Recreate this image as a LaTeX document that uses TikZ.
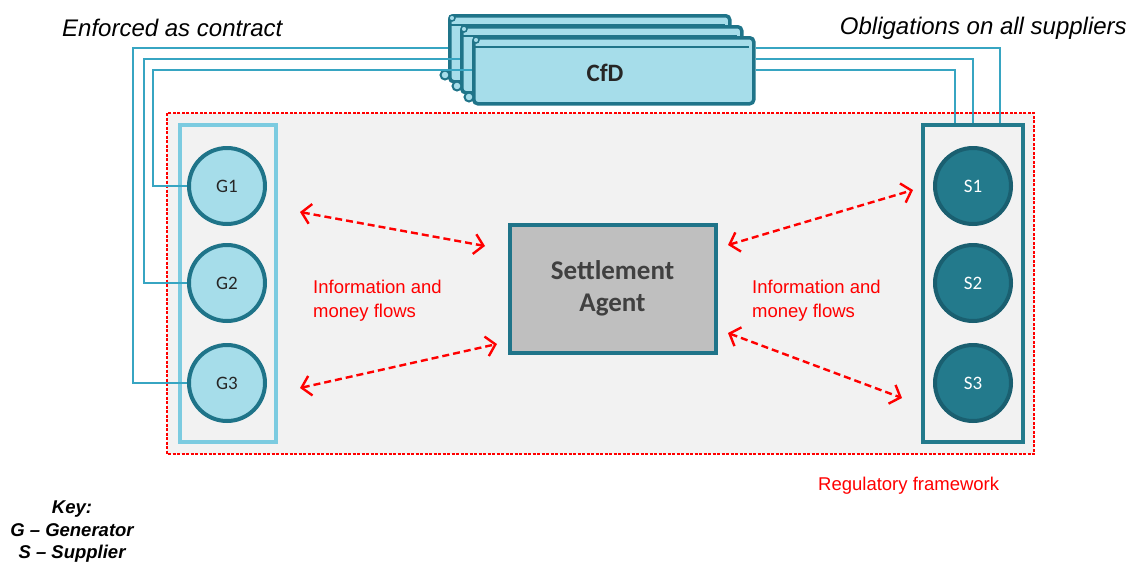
\documentclass[tikz,border=0pt]{standalone}
\usepackage{fontspec}
\setmainfont{Liberation Sans}
\newfontfamily\calib{Carlito}
\usetikzlibrary{arrows.meta}
\definecolor{darkteal}{HTML}{1F7489}
\definecolor{sfill}{HTML}{237A8C}
\definecolor{sborder}{HTML}{1A5F70}
\definecolor{lightfill}{HTML}{A6DDEA}
\definecolor{lightborder}{HTML}{7CCBE0}
\definecolor{linkblue}{HTML}{37A5C2}
\definecolor{bggray}{HTML}{F2F2F2}
\definecolor{agentfill}{HTML}{BFBFBF}
\definecolor{agenttext}{HTML}{404040}
\definecolor{flowred}{HTML}{FF0000}
\tikzset{
  gnode/.style={circle, draw=darkteal, line width=4pt, fill=lightfill, minimum size=76pt, inner sep=0pt, font=\calib\fontsize{19}{19}\selectfont, text=black!85},
  snode/.style={circle, draw=sborder, line width=4pt, fill=sfill, minimum size=76pt, inner sep=0pt, font=\calib\fontsize{19}{19}\selectfont, text=white},
  cfdcard/.style={draw=darkteal, line width=3.5pt, fill=lightfill, rounded corners=4pt, inner sep=0pt, anchor=north west},
  link/.style={draw=linkblue, line width=2pt},
  flow/.style={draw=flowred, line width=2.4pt, dash pattern=on 7pt off 4pt, {Straight Barb[length=9pt,width=20pt,line width=2.4pt]}-{Straight Barb[length=9pt,width=20pt,line width=2.4pt]}},
  redtext/.style={text=flowred, font=\fontsize{18.5}{24}\selectfont, align=left, inner sep=0pt},
}
\begin{document}
\begin{tikzpicture}[x=1pt,y=-1pt]
\useasboundingbox (0,0) rectangle (1132,563);
% regulatory frame
\draw[flowred, fill=bggray, line width=1.3pt, dash pattern=on 3pt off 1.5pt] (167,113) rectangle (1034,454);
% group rectangles
\node[draw=lightborder, line width=4pt, minimum width=96pt, minimum height=317pt, inner sep=0pt] (grect) at (228,283.5) {};
\node[draw=sfill, line width=4pt, minimum width=100pt, minimum height=317pt, inner sep=0pt] (srect) at (973,283.5) {};
% generators and suppliers
\node[gnode] (g1) at (227,186) {G1};
\node[gnode] (g2) at (227,283) {G2};
\node[gnode] (g3) at (227,383) {G3};
\node[snode] (s1) at (973,186) {S1};
\node[snode] (s2) at (973,283) {S2};
\node[snode] (s3) at (973,383) {S3};
% CfD cards
\foreach \k/\nm in {0/c0,1/c1,2/c2}{
  \pgfmathsetmacro\L{448+12*\k}
  \pgfmathsetmacro\T{14+11*\k}
  \node[cfdcard, minimum width=280pt, minimum height=66pt] (\nm) at (\L,\T) {};
  \draw[lightfill, line width=1.6pt] (\L+8,\T+6) -- (\L+272,\T+6);
  \draw[darkteal, line width=1.6pt] (\L+3,\T+11) -- (\L+277,\T+11);
  \filldraw[darkteal, fill=lightfill, line width=2pt] (\L-3,\T+61) circle (4.5pt);
  \filldraw[darkteal, fill=lightfill, line width=1.5pt] (\L+4,\T+4) circle (3pt);
}
\node[font=\calib\bfseries\fontsize{25}{25}\selectfont, text=black!85] (cfd) at (605,73) {CfD};
% links from generators
\draw[link] (g1.west) -| (153,70) -- (c2.west |- 0,70);
\draw[link] (g2.west) -| (144,59) -- (c1.west |- 0,59);
\draw[link] (g3.west) -| (133,48) -- (c0.west |- 0,48);
% links to suppliers
\draw[link] (c2.east |- 0,70) -| (955,0 |- srect.north);
\draw[link] (c2.east |- 0,59) -| (973,0 |- srect.north);
\draw[link] (c2.east |- 0,48) -| (1000,0 |- srect.north);
% settlement agent
\node[draw=darkteal, line width=4pt, fill=agentfill, minimum width=206pt, minimum height=128pt, inner sep=0pt, align=center, text=agenttext, font=\calib\bfseries\fontsize{27}{32}\selectfont] (agent) at (612.5,288.5) {Settlement\\Agent};
% flows
\coordinate (fl1) at (300,212);
\coordinate (fl2) at (300,388);
\coordinate (fr1) at (913,190);
\coordinate (fr2) at (902,398);
\draw[flow] (fl1) -- (485,246);
\draw[flow] (fl2) -- (497,344);
\draw[flow] (728,245) -- (fr1);
\draw[flow] (728,333) -- (fr2);
% texts
\node[redtext, anchor=west] (infol) at (313,301) {Information and\\money flows};
\node[redtext, anchor=west] (infor) at (752,301) {Information and\\money flows};
\node[redtext, anchor=west] (reg) at (818,486) {Regulatory framework};
\node[font=\itshape\fontsize{24}{24}\selectfont, anchor=west, inner sep=0pt] (enf) at (62,28) {Enforced as contract};
\node[font=\itshape\fontsize{24}{24}\selectfont, anchor=east, inner sep=0pt] (obl) at (1127,28) {Obligations on all suppliers};
\node[font=\bfseries\itshape\fontsize{18.5}{22.5}\selectfont, align=center, inner sep=0pt] (key) at (72,532) {Key:\\G -- Generator\\S -- Supplier};
\end{tikzpicture}
\end{document}
